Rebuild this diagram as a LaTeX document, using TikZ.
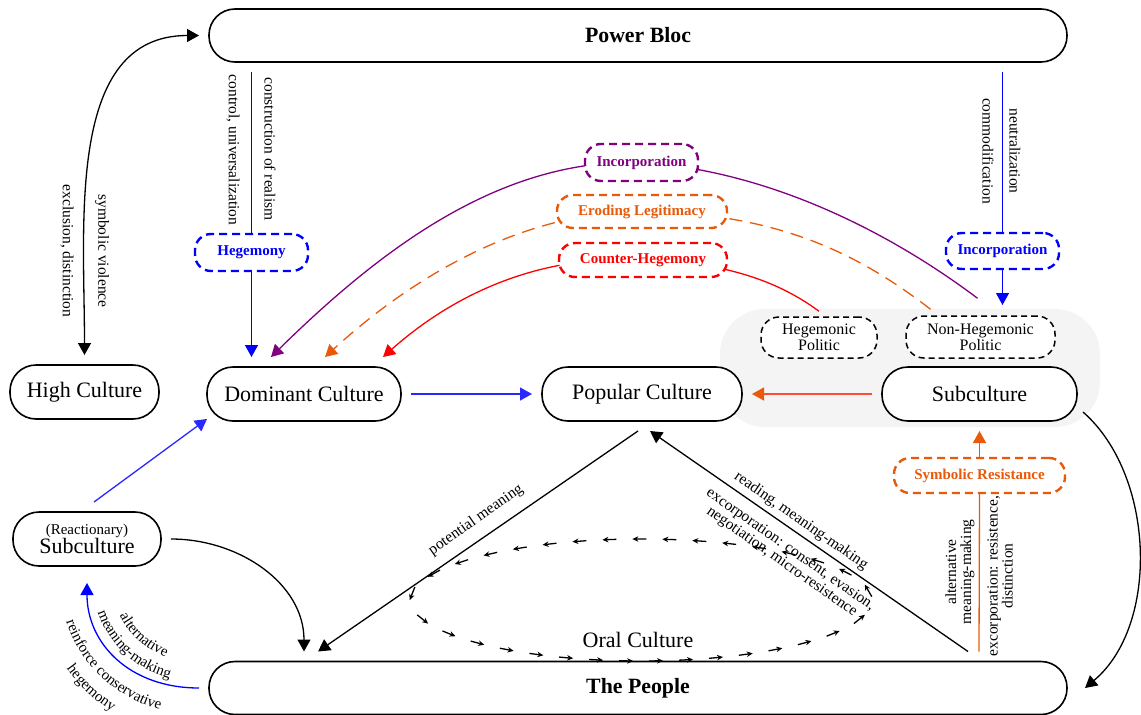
\documentclass[tikz,border=0pt]{standalone}
\usepackage{fontspec}
\setmainfont{Liberation Serif}
\usetikzlibrary{arrows.meta,decorations.markings,decorations.text,calc}
\pgfdeclarelayer{bgzero}
\pgfdeclarelayer{bgone}
\pgfsetlayers{bgzero,bgone,main}
\definecolor{cblue}{RGB}{0,0,255}
\definecolor{cblueL}{RGB}{40,40,255}
\definecolor{cpur}{RGB}{128,0,128}
\definecolor{corg}{RGB}{232,90,10}
\definecolor{cred}{RGB}{255,0,0}
\definecolor{csal}{RGB}{255,75,60}
\definecolor{cgray}{RGB}{244,244,244}
\begin{document}
\begin{tikzpicture}[x=1pt,y=-1pt,
  mainbox/.style={draw, line width=1.6pt, fill=white, rounded corners=26pt, minimum height=54pt, inner sep=0pt, outer sep=10pt, font=\fontsize{22}{22}\selectfont},
  bigbox/.style={mainbox, minimum height=53pt, font=\fontsize{21.8}{22}\selectfont\bfseries},
  tagbox/.style={draw=#1, text=#1, dash pattern=on 8pt off 5pt, line width=2.4pt, fill=white, rounded corners=16pt, inner sep=0pt, font=\fontsize{15}{15}\selectfont\bfseries},
  polbox/.style={draw, dash pattern=on 6pt off 4pt, line width=1.5pt, fill=white, rounded corners=18pt, inner sep=0pt, align=center, font=\fontsize{16}{14.5}\selectfont},
  lbl/.style={font=\fontsize{15.5}{15}\selectfont, inner sep=0pt, align=center},
  conn/.style={line width=1.3pt},
  tip/.style={-{Triangle[length=12pt,width=13pt]}},
  curvetext/.style={decorate, decoration={text along path, text align=center, text={|\fontsize{15}{15}\selectfont|#1}}}
]
\useasboundingbox (0,0) rectangle (1141,715);

% background group
\begin{pgfonlayer}{bgzero}
\node[fill=cgray, rounded corners=45pt, minimum width=380pt, minimum height=118pt, inner sep=0pt, outer sep=0pt] (grp) at (910,368) {};
\end{pgfonlayer}

% main nodes
\node[bigbox, minimum width=858pt] (pb) at (638,35.5) {Power Bloc};
\node[bigbox, minimum width=858pt] (people) at (638,688) {The People};
\node[mainbox, minimum width=149pt] (hc) at (84.5,392) {High Culture};
\node[mainbox, minimum width=194pt] (dom) at (304,394) {Dominant Culture};
\node[mainbox, minimum width=200pt] (pop) at (642,394) {Popular Culture};
\node[mainbox, minimum width=195pt] (sub) at (979.5,394) {Subculture};
\node[mainbox, minimum width=148pt, align=center] (react) at (87,539) {{\fontsize{15}{15}\selectfont (Reactionary)}\\[-3pt]Subculture};

% tag nodes
\node[tagbox=cblue, minimum width=113pt, minimum height=37pt] (heg) at (251.5,252.5) {Hegemony};
\node[tagbox=cpur, minimum width=113pt, minimum height=37pt] (incP) at (641.5,162.5) {Incorporation};
\node[tagbox=corg, minimum width=170pt, minimum height=33pt] (erod) at (642,211.5) {Eroding Legitimacy};
\node[tagbox=cred, minimum width=168pt, minimum height=34pt] (counter) at (643,260) {Counter-Hegemony};
\node[tagbox=cblue, minimum width=113pt, minimum height=36pt] (inc2) at (1002.5,251) {Incorporation};
\node[tagbox=corg, minimum width=171pt, minimum height=35pt] (sr) at (979.5,475.5) {Symbolic Resistance};
\node[polbox, minimum width=116pt, minimum height=41pt] (hp) at (819,337.5) {Hegemonic\\Politic};
\node[polbox, minimum width=149pt, minimum height=42pt] (nhp) at (980.5,337) {Non-Hegemonic\\Politic};
\node[font=\fontsize{22}{22}\selectfont, inner sep=0pt] (oral) at (638,640) {Oral Culture};

% coordinates
\coordinate (dBlue) at (dom.north -| heg.south);
\coordinate (dPur) at ($(dom.north)+(-33,0)$);
\coordinate (dOr) at ($(dom.north)+(21,0)$);
\coordinate (dRed) at ($(dom.north)+(79,0)$);
\coordinate (hpTop) at ($(hp.north)+(0,-5)$);
\coordinate (nhpOr) at ($(nhp.north)+(-50,-6)$);
\coordinate (nhpPur) at ($(nhp.north)+(-3,-17)$);
\coordinate (incEnd) at ($(inc2.south |- grp.north)+(0,-4)$);
\coordinate (popL) at ($(pop.south)+(-4,0)$);
\coordinate (popR) at ($(pop.south)+(8,0)$);
\coordinate (pplL) at ($(people.north)+(-320,0)$);
\coordinate (pplR) at ($(people.north)+(330,0)$);
\coordinate (pplRe) at ($(people.north)+(-334,0)$);
\coordinate (pplSR) at ($(people.north)+(341,0)$);
\coordinate (reactS) at ($(react.south)+(0,7)$);
\coordinate (reactN) at ($(react.north)+(7,0)$);
\coordinate (domSW) at ($(dom.south west)+(10,-12)$);
\coordinate (subSE) at ($(sub.east)+(-4,18)$);
\coordinate (pplE) at ($(people.east)+(8,0)$);

% curves behind tag boxes
\begin{pgfonlayer}{bgone}
\draw[conn, cpur, tip] (nhpPur) .. controls (880,225) and (760,170) .. (incP.center) .. controls (500,158) and (380,250) .. (dPur);
\draw[conn, corg, dash pattern=on 13pt off 8pt, tip] (nhpOr) .. controls (860,255) and (780,213) .. (erod.center) .. controls (530,211) and (420,270) .. (dOr);
\draw[conn, cred, tip] (hpTop) .. controls (790,290) and (740,262) .. (counter.center) .. controls (560,255) and (470,280) .. (dRed);
\end{pgfonlayer}

% blue connectors from power bloc
\draw[conn, cblue] (heg.north |- pb.south) -- (heg.north);
\draw[conn, cblue, tip] (heg.south) -- (dBlue);
\draw[conn, cblue] (inc2.north |- pb.south) -- (inc2.north);
\draw[conn, cblue, tip] (inc2.south) -- (incEnd);

% high culture <-> power bloc
\draw[conn, {Triangle[length=12pt,width=13pt]}-{Triangle[length=12pt,width=13pt]}] (hc.north) .. controls +(0,-133) and +(-133,0) .. (pb.west);

% horizontal arrows
\draw[conn, cblueL, tip] (dom.east) -- (pop.west);
\draw[conn, csal, -{Triangle[length=12pt,width=13pt,color=corg]}] (sub.west) -- (pop.east);
\draw[conn, cblueL, tip] (reactN) -- (domSW);

% triangle
\draw[conn, tip] (popL) -- (pplL);
\draw[conn, tip] (pplR) -- (popR);

% reactionary
\draw[conn, tip] (react.east) .. controls +(68,0) and +(0,-68) .. (pplRe);
\draw[conn, cblue, tip] (people.west) .. controls +(-70,0) and +(0,60) .. (reactS);

% subculture -> people
\draw[conn, tip] (subSE) .. controls (1155,475) and (1160,625) .. (pplE);

% symbolic resistance
\draw[conn, corg, tip] (sr.north) -- (sub.south);
\draw[conn, corg] (pplSR) -- (sr.south);

% oral culture loop
\path[decorate, decoration={markings, mark=between positions 0.01 and 0.99 step 30pt with {\draw[line width=1.3pt, -{Stealth[length=6pt,width=5.5pt]}] (-7pt,0pt) -- (7pt,0pt);}}] (871,600) arc[start angle=0, end angle=-360, x radius=230, y radius=61];

% labels
\node[lbl, rotate=-90] (l1) at (233,150) {control, universalization};
\node[lbl, rotate=-90] (l2) at (270,149) {construction of realism};
\node[lbl, rotate=-90] (l3) at (988,151) {commodification};
\node[lbl, rotate=-90] (l4) at (1015,151) {neutralization};
\node[lbl, rotate=-90] (l5) at (102,251) {symbolic violence};
\node[lbl, rotate=-90] (l6) at (67,251) {exclusion, distinction};
\node[lbl, rotate=90] (l7) at (960,572) {alternative\\meaning-making};
\node[lbl, rotate=90] (l8) at (1000,576) {excorporation: resistence,\\distinction};
\node[lbl, rotate=35] (l9) at (476,520) {potential meaning};
\node[lbl, rotate=-35] (l10) at (801,521) {reading, meaning-making};
\node[lbl, rotate=-35] (l11) at (786,556) {excorporation: consent, evasion,\\negotiation, micro-resistence};

% curved labels
\path[curvetext={alternative}] (112,583) .. controls (112,627.2) and (151,663) .. (199,663);
\path[curvetext={meaning-making}] (93,583) .. controls (93,637.5) and (140.5,682) .. (199,682);
\path[curvetext={reinforce conservative}] (60,583) .. controls (60,656) and (122.3,715) .. (199,715);
\path[curvetext={hegemony}] (39,583) .. controls (39,667.5) and (110.7,736) .. (199,736);
\end{tikzpicture}
\end{document}
